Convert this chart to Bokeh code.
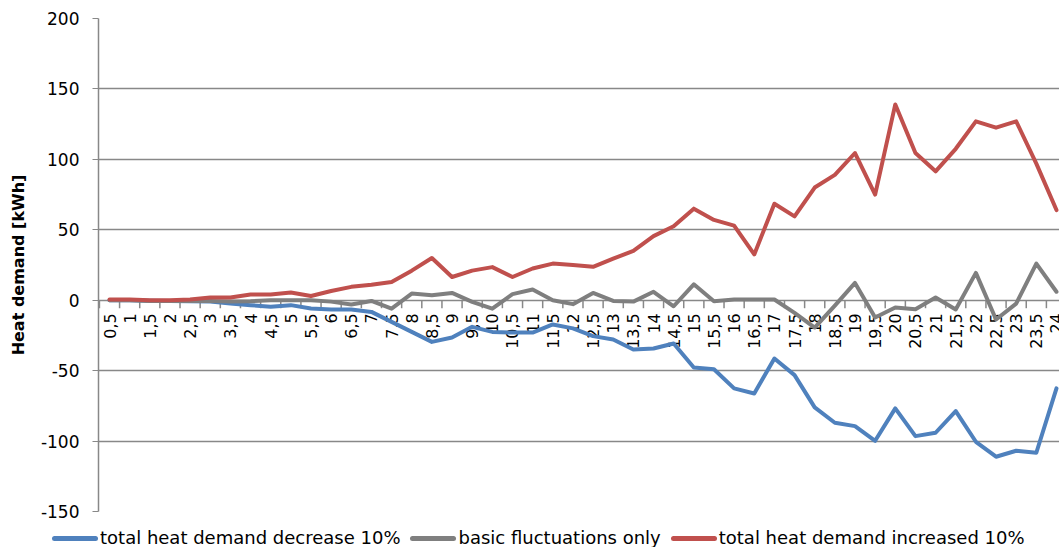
import math
from bokeh.plotting import figure
from bokeh.layouts import column
from bokeh.models import Range1d, FixedTicker, NumeralTickFormatter, Div
from bokeh.embed import file_html
from bokeh.resources import INLINE

hours = [0.5, 1, 1.5, 2, 2.5, 3, 3.5, 4, 4.5, 5, 5.5, 6, 6.5, 7, 7.5, 8,
         8.5, 9, 9.5, 10, 10.5, 11, 11.5, 12, 12.5, 13, 13.5, 14, 14.5, 15, 15.5, 16,
         16.5, 17, 17.5, 18, 18.5, 19, 19.5, 20, 20.5, 21, 21.5, 22, 22.5, 23, 23.5, 24]

hour_labels = ["0,5", "1", "1,5", "2", "2,5", "3", "3,5", "4", "4,5", "5", "5,5", "6",
               "6,5", "7", "7,5", "8", "8,5", "9", "9,5", "10", "10,5", "11", "11,5", "12",
               "12,5", "13", "13,5", "14", "14,5", "15", "15,5", "16", "16,5", "17", "17,5", "18",
               "18,5", "19", "19,5", "20", "20,5", "21", "21,5", "22", "22,5", "23", "23,5", "24"]

decrease = [0, 0, -0.3, -0.5, -0.7, -1, -2.4, -3.5, -4.7, -3.5, -5.9, -6.6,
            -6.6, -8.3, -15.4, -22.5, -29.6, -26.5, -18.9, -22.5, -23, -23, -17.2, -20,
            -25.5, -27.9, -35, -34.3, -30.7, -47.8, -49, -62.6, -66.2, -41.4, -53.2, -76.1,
            -87, -89.4, -99.8, -76.8, -96.5, -94.1, -78.7, -100.5, -111.1, -106.9, -108.3, -62.6]

basic = [0, 0, -0.5, -0.5, -0.5, -0.5, -1, -0.7, 0, 0, 0, -1,
         -3, -0.5, -6, 4.7, 3.5, 5.2, -1.2, -6, 4.3, 7.6, 0, -2.8,
         5.2, -0.5, -1, 6, -4.3, 11.3, -0.7, 0.5, 0.5, 0.5, -9, -19.4,
         -3.8, 12.3, -12.3, -5.2, -6.4, 1.9, -6.6, 19.4, -13.7, -2.4, 26, 6]

increase = [0.5, 0.5, 0, 0, 0.5, 2, 2, 4, 4, 5.5, 3, 6.5,
            9.5, 11, 13, 21, 30, 16.5, 21, 23.5, 16.5, 22.5, 26, 25,
            23.7, 29.5, 35, 45.5, 52.5, 65, 57, 53, 32.5, 68.5, 59.5, 80,
            89, 104.5, 75, 139, 104.5, 91.5, 107.5, 127, 122.5, 127, 97, 64]

series_names = ["total heat demand decrease 10%", "basic fluctuations only",
                "total heat demand increased 10%"]
series_colors = ["#4F81BD", "#7F7F7F", "#C0504D"]
y_ticks = [-150, -100, -50, 0, 50, 100, 150, 200]

FONT = "DejaVu Sans"
GRID = "#888888"

W = 1059
H_MAIN, H_LEG = 523, 24
B_LEFT, B_RIGHT, B_TOP, B_BOTTOM = 98, 0, 18, 12
Y0, Y1 = -150, 200

p = figure(width=W, height=H_MAIN, output_backend="svg", toolbar_location=None,
           x_range=Range1d(0.227, 24.075), y_range=Range1d(Y0, Y1),
           x_axis_type=None, min_border_left=B_LEFT, min_border_right=B_RIGHT,
           min_border_top=B_TOP, min_border_bottom=B_BOTTOM)
p.outline_line_color = None
p.background_fill_color = "white"

# y axis
p.yaxis.ticker = FixedTicker(ticks=y_ticks)
p.yaxis.formatter = NumeralTickFormatter(format="0")
p.yaxis.axis_label = "Heat demand [kWh]"
p.yaxis.axis_label_text_font = FONT
p.yaxis.axis_label_text_font_style = "bold"
p.yaxis.axis_label_text_font_size = "16px"
p.yaxis.axis_label_text_color = "black"
p.yaxis.axis_label_standoff = 10
p.yaxis.major_label_text_font = FONT
p.yaxis.major_label_text_font_size = "17px"
p.yaxis.major_label_text_color = "black"
p.yaxis.major_label_standoff = 13
p.yaxis.major_tick_out = 6
p.yaxis.major_tick_in = 0
p.yaxis.minor_tick_line_color = None
p.yaxis.axis_line_color = GRID
p.yaxis.axis_line_width = 1.5
p.yaxis.major_tick_line_color = GRID
p.ygrid.grid_line_color = GRID
p.ygrid.grid_line_width = 1.5
p.ygrid.ticker = FixedTicker(ticks=y_ticks)

# category axis crossing at zero: boundary ticks and vertical labels
frame_h = H_MAIN - B_TOP - B_BOTTOM
tick_len = 8 * (Y1 - Y0) / frame_h
bounds = [h - 0.25 for h in hours] + [hours[-1] + 0.25]
p.segment(x0=bounds, y0=[0] * len(bounds), x1=bounds, y1=[-tick_len] * len(bounds),
          line_color=GRID, line_width=1.5)
p.text(x=hours, y=[0] * len(hours), text=hour_labels, angle=math.pi / 2,
       text_align="right", text_baseline="middle", y_offset=13,
       text_font={"value": FONT}, text_font_size={"value": "16px"}, text_color="black")

for vals, col in zip([decrease, basic, increase], series_colors):
    p.line(hours, vals, line_color=col, line_width=4, line_join="round", line_cap="round")

# legend strip below the chart (HTML text)
parts = []
for i, (n, c) in enumerate(zip(series_names, series_colors)):
    gap = "0" if i == 0 else "10px"
    parts.append(
        f'<span style="display:inline-block;margin-left:{gap};width:46px;height:5px;'
        f'border-radius:3px;background:{c};vertical-align:middle;"></span>'
        f'<span style="margin-left:2px;vertical-align:middle;">{n}</span>')
legend_html = (f'<div style="white-space:nowrap;font-family:\'{FONT}\';font-size:18px;'
               f'line-height:20px;color:black;padding-left:52px;padding-top:4px;">'
               + "".join(parts) + "</div>")
leg = Div(text=legend_html, width=W, height=H_LEG, margin=0)

open("out.html", "w").write(file_html(column(p, leg, spacing=0), INLINE))
